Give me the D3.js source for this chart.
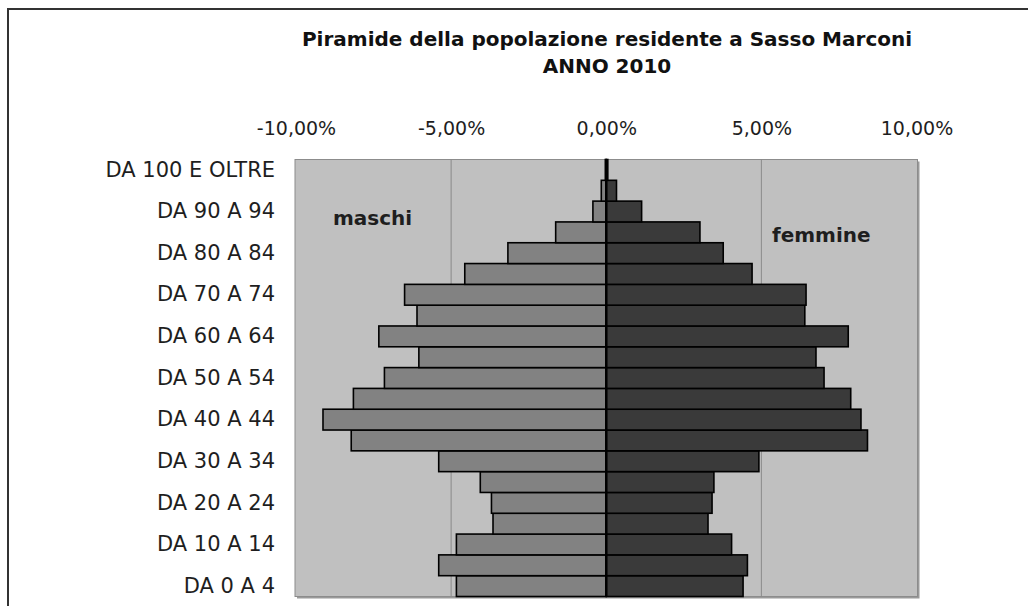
<!DOCTYPE html>
<html>
<head>
<meta charset="utf-8">
<script src="https://cdn.jsdelivr.net/npm/d3@7"></script>
<style>
    body { margin: 0; background: #fff; }
    svg { display: block; }
</style>
</head>
<body>
<div class="pyramid-chart"></div>
<script>
// classi di età, dal basso verso l'alto
let ageGroups = ["DA 0 A 4", "DA 5 A 9", "DA 10 A 14", "DA 15 A 19", "DA 20 A 24", "DA 25 A 29",
    "DA 30 A 34", "DA 35 A 39", "DA 40 A 44", "DA 45 A 49", "DA 50 A 54", "DA 55 A 59",
    "DA 60 A 64", "DA 65 A 69", "DA 70 A 74", "DA 75 A 79", "DA 80 A 84", "DA 85 A 89",
    "DA 90 A 94", "DA 95 A 99", "DA 100 E OLTRE"]
// percentuali (sul totale di ciascun sesso)
let maschi = [4.83, 5.40, 4.83, 3.65, 3.70, 4.06, 5.40, 8.22, 9.13, 8.15, 7.15, 6.04,
    7.33, 6.10, 6.50, 4.56, 3.17, 1.63, 0.43, 0.16, 0.03]
let femmine = [4.41, 4.55, 4.04, 3.28, 3.41, 3.47, 4.92, 8.42, 8.21, 7.88, 7.02, 6.76,
    7.80, 6.40, 6.44, 4.70, 3.77, 3.02, 1.14, 0.33, 0.05]
let tickValues = [-10, -5, 0, 5, 10]
let gridValues = [-5, 5]
let titleLines = ["Piramide della popolazione residente a Sasso Marconi", "ANNO 2010"]

let width = 1028, height = 606
let font = "'DejaVu Sans', sans-serif"
let textColor = "#1e1e1e"

let svg = d3.select(".pyramid-chart")
    .append("svg")
    .attr("width", width)
    .attr("height", height)

//cornice esterna (tagliata a destra e in basso)
svg.append("rect")
    .attr("x", 8)
    .attr("y", 9)
    .attr("width", width + 20)
    .attr("height", height + 20)
    .attr("fill", "none")
    .attr("stroke", "#333")
    .attr("stroke-width", 2)

let plot = { left: 296, right: 916.5, top: 159.5, bottom: 596.5 }
let x = d3.scaleLinear().domain([-10, 10]).range([plot.left, plot.right])
let y = d3.scaleBand().domain(ageGroups.slice().reverse()).range([plot.top, plot.bottom]).padding(0)

let it = d3.formatLocale({ decimal: ",", thousands: ".", grouping: [3], currency: ["€", ""], minus: "-" })
let fmt = it.format(".2f")

//titolo
titleLines.forEach((line, i) => {
    svg.append("text")
        .attr("x", 607)
        .attr("y", 46 + i * 27)
        .attr("text-anchor", "middle")
        .attr("font-family", font)
        .attr("font-size", 20)
        .attr("font-weight", "bold")
        .attr("fill", "#111")
        .text(line)
})

//ombra e sfondo dell'area del grafico
svg.append("rect")
    .attr("x", x(-10) - 1 + 2)
    .attr("y", plot.top + 2)
    .attr("width", x(10) - x(-10) + 2)
    .attr("height", plot.bottom - plot.top)
    .attr("fill", "#9a9a9a")
svg.append("rect")
    .attr("x", x(-10) - 1)
    .attr("y", plot.top)
    .attr("width", x(10) - x(-10) + 2)
    .attr("height", plot.bottom - plot.top)
    .attr("fill", "#c0c0c0")
    .attr("stroke", "#8c8c8c")
    .attr("stroke-width", 1)

//griglia verticale
svg.append("g")
    .selectAll("line")
    .data(gridValues)
    .enter()
    .append("line")
    .attr("x1", (d) => x(d))
    .attr("x2", (d) => x(d))
    .attr("y1", plot.top)
    .attr("y2", plot.bottom)
    .attr("stroke", "#8a8a8a")
    .attr("stroke-width", 1)

//barre maschi
svg.append("g")
    .selectAll("rect")
    .data(ageGroups)
    .enter()
    .append("rect")
    .attr("x", (d, i) => x(-maschi[i]))
    .attr("y", (d) => y(d))
    .attr("width", (d, i) => x(0) - x(-maschi[i]))
    .attr("height", y.bandwidth())
    .attr("fill", "#828282")
    .attr("stroke", "#000")
    .attr("stroke-width", 1.6)

//barre femmine
svg.append("g")
    .selectAll("rect")
    .data(ageGroups)
    .enter()
    .append("rect")
    .attr("x", x(0))
    .attr("y", (d) => y(d))
    .attr("width", (d, i) => x(femmine[i]) - x(0))
    .attr("height", y.bandwidth())
    .attr("fill", "#3a3a3a")
    .attr("stroke", "#000")
    .attr("stroke-width", 1.6)

//asse dello zero
svg.append("line")
    .attr("x1", x(0))
    .attr("x2", x(0))
    .attr("y1", plot.top)
    .attr("y2", plot.bottom)
    .attr("stroke", "#000")
    .attr("stroke-width", 2.5)

//asse x in alto
let xAxis = svg.append("g")
    .attr("transform", "translate(0,135)")
    .call(d3.axisTop(x).tickValues(tickValues).tickSize(0).tickPadding(0).tickFormat((d) => fmt(d) + "%"))
xAxis.select(".domain").remove()
xAxis.selectAll("text")
    .attr("font-family", font)
    .attr("font-size", 19)
    .attr("fill", textColor)

//asse y con le classi di età (una sì e una no)
let yAxis = svg.append("g")
    .attr("transform", `translate(${plot.left - 1},0)`)
    .call(d3.axisLeft(y).tickValues(ageGroups.filter((d, i) => i % 2 == 0)).tickSize(0).tickPadding(20))
yAxis.select(".domain").remove()
yAxis.selectAll("text")
    .attr("font-family", font)
    .attr("font-size", 21)
    .attr("fill", textColor)

//etichette dei sessi
let legend = [{ name: "maschi", x: 333, y: 225 }, { name: "femmine", x: 772, y: 242 }]
svg.append("g")
    .selectAll("text")
    .data(legend)
    .enter()
    .append("text")
    .attr("x", (d) => d.x)
    .attr("y", (d) => d.y)
    .attr("font-family", font)
    .attr("font-size", 20)
    .attr("font-weight", "bold")
    .attr("fill", textColor)
    .text((d) => d.name)
</script>
</body>
</html>
